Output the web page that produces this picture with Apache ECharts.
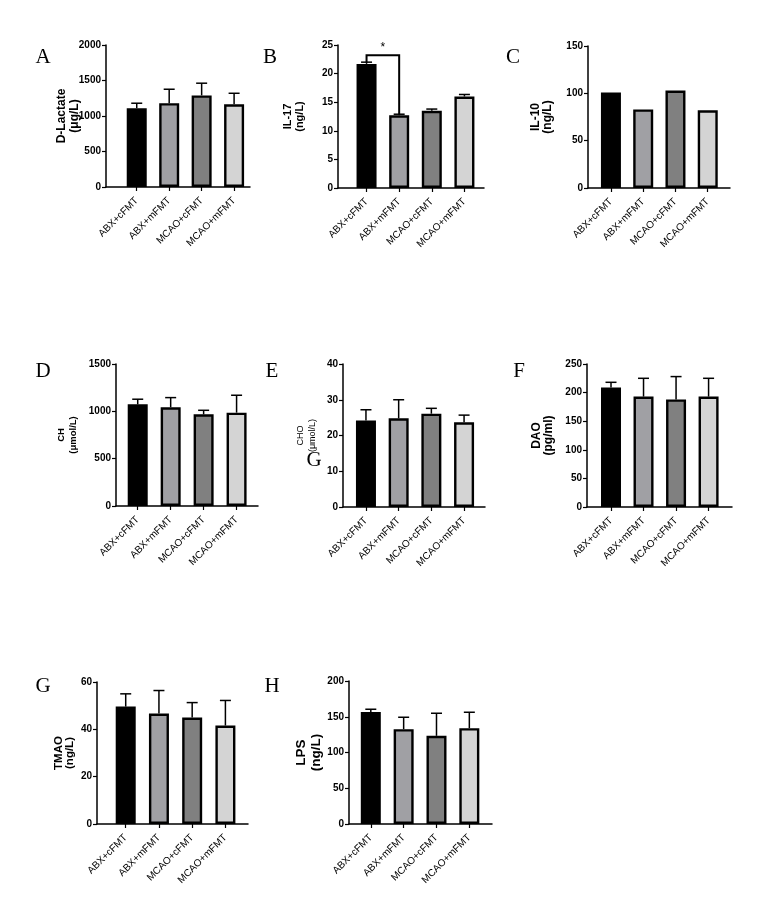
<!DOCTYPE html>
<html>
<head>
<meta charset="utf-8">
<script src="https://cdn.jsdelivr.net/npm/echarts@6/dist/echarts.min.js"></script>
<style>
  html, body { margin: 0; padding: 0; background: #fff; }
  #chart { width: 764px; height: 914px; }
</style>
</head>
<body>
<div id="chart"></div>
<script>
// groups on the x axis, same order in every panel
const groups = ['ABX+cFMT', 'ABX+mFMT', 'MCAO+cFMT', 'MCAO+mFMT']
const groupIdx = [0, 1, 2, 3]

// mean and SD per panel
const dLactateMean = [1110, 1180, 1290, 1165]
const dLactateSd = [70, 197, 172, 155]
const il17Mean = [21.7, 12.7, 13.5, 16.0]
const il17Sd = [0.3, 0.2, 0.3, 0.35]
const il10Mean = [101, 83, 103, 82]
const chMean = [1074, 1043, 968, 986]
const chSd = [54, 102, 43, 184]
const choMean = [24.2, 24.8, 26.1, 23.7]
const choSd = [3.0, 5.2, 1.5, 2.0]
const daoMean = [209, 193, 188, 193]
const daoSd = [9, 32, 40, 32]
const tmaoMean = [49.6, 46.7, 45.0, 41.6]
const tmaoSd = [5.4, 9.7, 6.3, 10.6]
const lpsMean = [156.7, 132.6, 123.3, 134.0]
const lpsSd = [3.8, 16.7, 31.6, 22.3]

// significance bracket in panel B: [from, to, bracket level, mark]
const il17Sig = [[0, 1, 23.2, '*']]

const barColors = ['#000000', '#a0a0a4', '#808080', '#d4d4d4']
const SANS = '"Liberation Sans", Arial, sans-serif'
const SERIF = '"Liberation Serif", "Times New Roman", serif'

// layout of each panel: grid box [left, top, width, height], x range, name gap/size
const panels = [
  { letter: 'A', at: [43, 57], name: 'D-Lactate\n(μg/L)', mean: dLactateMean, sd: dLactateSd, max: 2000, interval: 500,
    box: [106, 45, 144, 142], xr: [-0.947, 3.49], nameGap: 25, nameSize: 12, nameLh: 13 },
  { letter: 'B', at: [270, 57], name: 'IL-17\n(ng/L)', mean: il17Mean, sd: il17Sd, max: 25, interval: 5,
    box: [338, 45, 146, 143], xr: [-0.875, 3.6], nameGap: 32, nameSize: 11, nameLh: 12, sig: il17Sig },
  { letter: 'C', at: [513, 57], name: 'IL-10\n(ng/L)', mean: il10Mean, sd: null, max: 150, interval: 50,
    box: [588, 46, 142, 142], xr: [-0.711, 3.69], nameGap: 34, nameSize: 12, nameLh: 12 },
  { letter: 'D', at: [43, 371], name: 'CH\n(μmol/L)', mean: chMean, sd: chSd, max: 1500, interval: 500,
    box: [116, 364, 142, 142], xr: [-0.659, 3.65], nameGap: 37, nameSize: 9.5, nameLh: 12 },
  { letter: 'E', at: [272, 371], name: 'CHO\n(μmol/L)', mean: choMean, sd: choSd, max: 40, interval: 10,
    box: [343, 364, 142, 143], xr: [-0.702, 3.64], nameGap: 24, nameSize: 9, nameLh: 12.5, nameWeight: 'normal' },
  { letter: 'F', at: [519, 371], name: 'DAO\n(pg/ml)', mean: daoMean, sd: daoSd, max: 250, interval: 50,
    box: [587, 364, 145, 143], xr: [-0.738, 3.72], nameGap: 32, nameSize: 12, nameLh: 12.5 },
  { letter: 'G', at: [43, 686], name: 'TMAO\n(ng/L)', mean: tmaoMean, sd: tmaoSd, max: 60, interval: 20,
    box: [97, 682, 151, 142], xr: [-0.864, 3.68], nameGap: 22, nameSize: 11.5, nameLh: 10.5 },
  { letter: 'H', at: [272, 686], name: 'LPS\n(ng/L)', mean: lpsMean, sd: lpsSd, max: 200, interval: 50,
    box: [349, 681, 143, 143], xr: [-0.664, 3.69], nameGap: 25, nameSize: 13.5, nameLh: 15 },
]

const axisLineStyle = { color: '#000', width: 1.5 }

const grids = []
const xAxes = []
const yAxes = []
const series = []
const graphics = []

function errorBarItem(params, api) {
  const x = api.value(0)
  const m = api.value(1)
  const s = api.value(2)
  const p0 = api.coord([x, m])
  const p1 = api.coord([x, m + s])
  const style = { stroke: '#000', lineWidth: 1.5 }
  return {
    type: 'group',
    children: [
      { type: 'line', shape: { x1: p0[0], y1: p0[1], x2: p1[0], y2: p1[1] }, style },
      { type: 'line', shape: { x1: p1[0] - 5.5, y1: p1[1], x2: p1[0] + 5.5, y2: p1[1] }, style },
    ],
  }
}

function bracketItem(mean, sd) {
  return function (params, api) {
    const a = api.value(0)
    const b = api.value(1)
    const lvl = api.value(2)
    const pa = api.coord([a, mean[a] + sd[a]])
    const pb = api.coord([b, mean[b] + sd[b]])
    const ta = api.coord([a, lvl])
    const tb = api.coord([b, lvl])
    return {
      type: 'group',
      children: [
        { type: 'polyline', shape: { points: [pa, ta, tb, pb] }, style: { stroke: '#000', lineWidth: 2, fill: null } },
        { type: 'text', style: { text: api.value(3), x: (ta[0] + tb[0]) / 2, y: ta[1] - 8, align: 'center',
          verticalAlign: 'middle', font: '12px ' + SANS, fill: '#000' } },
      ],
    }
  }
}

panels.forEach((p, i) => {
  grids.push({ left: p.box[0], top: p.box[1], width: p.box[2], height: p.box[3] })
  xAxes.push({
    gridIndex: i, type: 'value', min: p.xr[0], max: p.xr[1],
    axisLine: { show: true, onZero: false, lineStyle: axisLineStyle },
    axisTick: { show: true, customValues: groupIdx, length: 4, lineStyle: { color: '#000', width: 1.2 } },
    axisLabel: { customValues: groupIdx, formatter: (v) => groups[Math.round(v)], rotate: 45, margin: 12,
      fontFamily: SANS, fontSize: 10, color: '#000' },
    splitLine: { show: false },
  })
  yAxes.push({
    gridIndex: i, type: 'value', min: 0, max: p.max, interval: p.interval,
    name: p.name, nameLocation: 'middle', nameRotate: 90, nameGap: p.nameGap, nameMoveOverlap: false,
    nameTextStyle: { fontFamily: SANS, fontWeight: p.nameWeight || 'bold', fontSize: p.nameSize,
      lineHeight: p.nameLh, color: '#000' },
    axisLine: { show: true, onZero: false, lineStyle: axisLineStyle },
    axisTick: { show: true, length: 4, lineStyle: { color: '#000', width: 1.2 } },
    axisLabel: { fontFamily: SANS, fontWeight: 'bold', fontSize: 10, margin: 5, color: '#000',
      formatter: (v) => String(v) },
    splitLine: { show: false },
  })
  series.push({
    type: 'bar', xAxisIndex: i, yAxisIndex: i, barWidth: 20, silent: true,
    itemStyle: { borderColor: '#000', borderWidth: 2.4 },
    data: p.mean.map((v, k) => ({ value: [k, v], itemStyle: { color: barColors[k] } })),
  })
  if (p.sd) {
    series.push({
      type: 'custom', xAxisIndex: i, yAxisIndex: i, silent: true, z: 3,
      renderItem: errorBarItem,
      data: p.mean.map((v, k) => [k, v, p.sd[k]]),
    })
  }
  if (p.sig) {
    series.push({
      type: 'custom', xAxisIndex: i, yAxisIndex: i, silent: true, z: 4,
      renderItem: bracketItem(p.mean, p.sd),
      data: p.sig,
    })
  }
  graphics.push({
    type: 'text', x: p.at[0], y: p.at[1],
    style: { text: p.letter, font: '21px ' + SERIF, fill: '#000', align: 'center', verticalAlign: 'middle' },
  })
})

// stray panel letter sitting over the CHO label in the source figure
graphics.push({
  type: 'text', x: 314, y: 460,
  style: { text: 'G', font: '21px ' + SERIF, fill: '#000', align: 'center', verticalAlign: 'middle' },
})

const chart = echarts.init(document.getElementById('chart'), null, { renderer: 'canvas' })
chart.setOption({
  backgroundColor: '#fff',
  animation: false,
  grid: grids,
  xAxis: xAxes,
  yAxis: yAxes,
  series,
  graphic: graphics,
})
</script>
</body>
</html>
